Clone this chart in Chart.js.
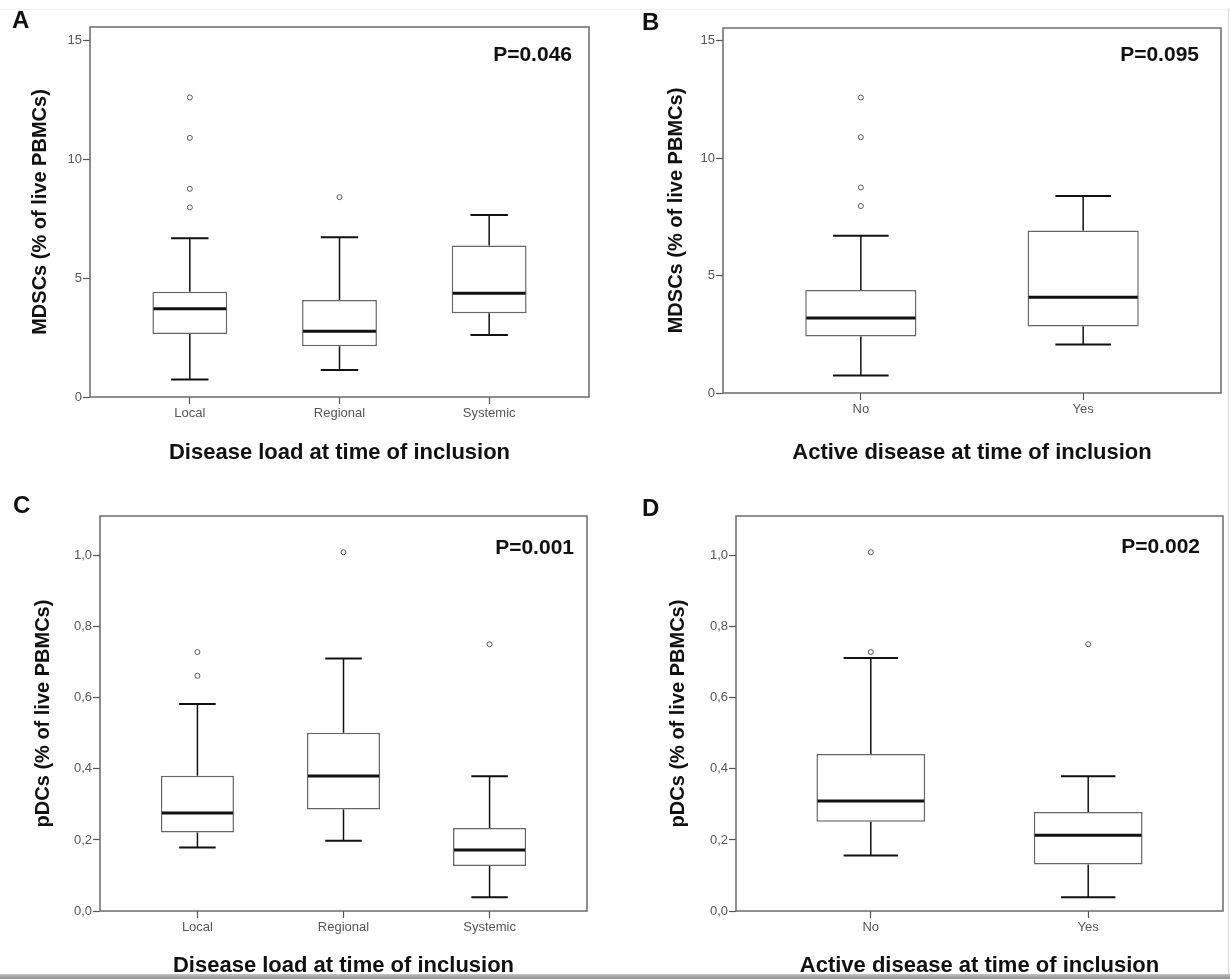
<!DOCTYPE html>
<html>
<head>
<meta charset="utf-8">
<script src="https://cdn.jsdelivr.net/npm/chart.js@4.4.1/dist/chart.umd.min.js"></script>
<style>
  body { margin: 0; background: #fff; }
  #page { position: relative; width: 1230px; height: 979px; overflow: hidden; background: #fff;
          font-family: "Liberation Sans", Arial, sans-serif; }
  canvas { position: absolute; }
  .letter { position: absolute; font-size: 24px; font-weight: bold; line-height: 1; color: #111; }
  .pval { position: absolute; font-size: 21px; font-weight: bold; line-height: 1; color: #111; }
  #topline { position: absolute; left: 0; top: 9px; width: 1230px; height: 1px; background: #f0f0f0; }
  #rightline { position: absolute; left: 1228px; top: 9px; width: 1px; height: 970px; background: #d8d8d8; }
  #bottombar { position: absolute; left: 0; top: 974px; width: 1230px; height: 5px;
               background: linear-gradient(#c4c4c4, #8c8c8c); }
</style>
</head>
<body>
<div id="page">
  <div id="topline"></div>
  <div id="rightline"></div>
  <canvas id="chartA" width="615" height="490" style="left:0;top:0"></canvas>
  <canvas id="chartB" width="615" height="490" style="left:615px;top:0"></canvas>
  <canvas id="chartC" width="615" height="489" style="left:0;top:490px"></canvas>
  <canvas id="chartD" width="615" height="489" style="left:615px;top:490px"></canvas>
  <div class="letter" style="left:12px;top:8px">A</div>
  <div class="letter" style="left:642px;top:10px">B</div>
  <div class="letter" style="left:13px;top:493px">C</div>
  <div class="letter" style="left:642px;top:496px">D</div>
  <div class="pval" style="right:658px;top:43px">P=0.046</div>
  <div class="pval" style="right:31px;top:43px">P=0.095</div>
  <div class="pval" style="right:656px;top:536px">P=0.001</div>
  <div class="pval" style="right:30px;top:535px">P=0.002</div>
  <div id="bottombar"></div>
</div>
<script>
// groups
const loadGroups = ['Local', 'Regional', 'Systemic'];
const activeGroups = ['No', 'Yes'];

// y ticks
const mdscTicks = [0, 5, 10, 15];
const mdscTickLabels = ['0', '5', '10', '15'];
const pdcTicks = [0, 0.2, 0.4, 0.6, 0.8, 1.0];
const pdcTickLabels = ['0,0', '0,2', '0,4', '0,6', '0,8', '1,0'];

// A: MDSCs by disease load
const mdscLoadLow = [0.74, 1.13, 2.61];
const mdscLoadQ1 = [2.65, 2.13, 3.52];
const mdscLoadMedian = [3.71, 2.76, 4.36];
const mdscLoadQ3 = [4.42, 4.08, 6.37];
const mdscLoadHigh = [6.67, 6.71, 7.65];
const mdscLoadOutliers = [[12.59, 10.89, 8.75, 7.97], [8.40], []];

// B: MDSCs by active disease
const mdscActiveLow = [0.75, 2.07];
const mdscActiveQ1 = [2.41, 2.83];
const mdscActiveMedian = [3.19, 4.08];
const mdscActiveQ3 = [4.38, 6.92];
const mdscActiveHigh = [6.69, 8.39];
const mdscActiveOutliers = [[12.58, 10.89, 8.75, 7.96], []];

// C: pDCs by disease load
const pdcLoadLow = [0.179, 0.198, 0.039];
const pdcLoadQ1 = [0.221, 0.286, 0.127];
const pdcLoadMedian = [0.276, 0.380, 0.172];
const pdcLoadQ3 = [0.381, 0.502, 0.234];
const pdcLoadHigh = [0.583, 0.711, 0.379];
const pdcLoadOutliers = [[0.729, 0.662], [1.010], [0.751]];

// D: pDCs by active disease
const pdcActiveLow = [0.156, 0.039];
const pdcActiveQ1 = [0.251, 0.131];
const pdcActiveMedian = [0.310, 0.213];
const pdcActiveQ3 = [0.442, 0.279];
const pdcActiveHigh = [0.712, 0.379];
const pdcActiveOutliers = [[1.010, 0.729], [0.751]];

const FONT = '"Liberation Sans", Arial, sans-serif';

function makePanel(id, cfg) {
  const n = cfg.groups.length;

  // whiskers, caps and medians, placed with the chart's own scales
  const boxLines = {
    id: 'boxLines',
    afterDatasetsDraw(chart) {
      const xs = chart.scales.x, ys = chart.scales.y, c = chart.ctx;
      c.save();
      c.strokeStyle = '#111';
      for (let i = 0; i < n; i++) {
        const x = xs.getPixelForValue(i + 1);
        const cap = xs.getPixelForValue(i + 1.125) - x;
        const half = xs.getPixelForValue(i + 1.25) - x;
        c.lineWidth = 1.5;
        c.beginPath();
        c.moveTo(x, ys.getPixelForValue(cfg.q3[i]));
        c.lineTo(x, ys.getPixelForValue(cfg.high[i]));
        c.moveTo(x, ys.getPixelForValue(cfg.q1[i]));
        c.lineTo(x, ys.getPixelForValue(cfg.low[i]));
        c.stroke();
        c.lineWidth = 2;
        c.beginPath();
        c.moveTo(x - cap, ys.getPixelForValue(cfg.high[i]));
        c.lineTo(x + cap, ys.getPixelForValue(cfg.high[i]));
        c.moveTo(x - cap, ys.getPixelForValue(cfg.low[i]));
        c.lineTo(x + cap, ys.getPixelForValue(cfg.low[i]));
        c.stroke();
        c.lineWidth = 3;
        c.beginPath();
        c.moveTo(x - half + 1, ys.getPixelForValue(cfg.median[i]));
        c.lineTo(x + half - 1, ys.getPixelForValue(cfg.median[i]));
        c.stroke();
      }
      c.restore();
    },
    afterDraw(chart) {
      const a = chart.chartArea, c = chart.ctx;
      c.save();
      c.strokeStyle = '#6a6a6a';
      c.lineWidth = 1.5;
      c.strokeRect(a.left, a.top, a.right - a.left, a.bottom - a.top);
      c.restore();
    }
  };

  const outlierPoints = [];
  cfg.outliers.forEach((vals, i) => vals.forEach(v => outlierPoints.push({ x: i + 1, y: v })));

  new Chart(document.getElementById(id), {
    type: 'bar',
    data: {
      datasets: [
        {
          type: 'bar',
          data: cfg.q1.map((q, i) => ({ x: i + 1, y: [q, cfg.q3[i]] })),
          backgroundColor: '#fff',
          borderColor: '#666',
          borderWidth: 1.5,
          borderSkipped: false,
          barPercentage: 0.5,
          categoryPercentage: 1,
          grouped: false
        },
        {
          type: 'scatter',
          data: outlierPoints,
          pointRadius: 2.5,
          pointBorderWidth: 1,
          pointBorderColor: '#555',
          pointBackgroundColor: '#fff'
        }
      ]
    },
    options: {
      responsive: false,
      animation: false,
      layout: { padding: { top: cfg.padTop, right: cfg.padRight, left: 0, bottom: 0 } },
      plugins: { legend: { display: false }, tooltip: { enabled: false } },
      scales: {
        x: {
          type: 'linear',
          offset: false,
          min: 1 - cfg.margin,
          max: n + cfg.margin,
          afterBuildTicks: s => { s.ticks = cfg.groups.map((g, i) => ({ value: i + 1 })); },
          afterFit: s => { s.height = cfg.xHeight; },
          ticks: {
            autoSkip: false, maxRotation: 0, padding: 2, color: '#555',
            font: { family: FONT, size: 13 },
            callback: v => cfg.groups[v - 1]
          },
          grid: { offset: false, drawOnChartArea: false, tickLength: 7, tickColor: '#555', tickWidth: 1.2 },
          border: { display: false },
          title: {
            display: true, text: cfg.xTitle, color: '#111',
            font: { family: FONT, size: 22, weight: 'bold' },
            padding: { top: 0, bottom: cfg.xTitlePad }
          }
        },
        y: {
          min: 0,
          max: cfg.yMax,
          afterBuildTicks: s => { s.ticks = cfg.yTicks.map(v => ({ value: v })); },
          afterFit: s => { s.width = cfg.yWidth; },
          ticks: {
            padding: 1, color: '#555',
            font: { family: FONT, size: 13 },
            callback: (v, i) => cfg.yTickLabels[i]
          },
          grid: { drawOnChartArea: false, tickLength: 7, tickColor: '#555', tickWidth: 1.2 },
          border: { display: false },
          title: {
            display: true, text: cfg.yTitle, color: '#111',
            font: { family: FONT, size: 20, weight: 'bold' },
            padding: { top: cfg.yTitlePad, bottom: 0 }
          }
        }
      }
    },
    plugins: [boxLines]
  });
}

makePanel('chartA', {
  groups: loadGroups, low: mdscLoadLow, q1: mdscLoadQ1, median: mdscLoadMedian,
  q3: mdscLoadQ3, high: mdscLoadHigh, outliers: mdscLoadOutliers,
  yTicks: mdscTicks, yTickLabels: mdscTickLabels, yMax: 15.55, margin: 0.667,
  yTitle: 'MDSCs (% of live PBMCs)', xTitle: 'Disease load at time of inclusion',
  padTop: 27, padRight: 26, yWidth: 90, xHeight: 93, yTitlePad: 28, xTitlePad: 24
});

makePanel('chartB', {
  groups: activeGroups, low: mdscActiveLow, q1: mdscActiveQ1, median: mdscActiveMedian,
  q3: mdscActiveQ3, high: mdscActiveHigh, outliers: mdscActiveOutliers,
  yTicks: mdscTicks, yTickLabels: mdscTickLabels, yMax: 15.54, margin: 0.62,
  yTitle: 'MDSCs (% of live PBMCs)', xTitle: 'Active disease at time of inclusion',
  padTop: 28, padRight: 9, yWidth: 108, xHeight: 97, yTitlePad: 49, xTitlePad: 24
});

makePanel('chartC', {
  groups: loadGroups, low: pdcLoadLow, q1: pdcLoadQ1, median: pdcLoadMedian,
  q3: pdcLoadQ3, high: pdcLoadHigh, outliers: pdcLoadOutliers,
  yTicks: pdcTicks, yTickLabels: pdcTickLabels, yMax: 1.112, margin: 0.667,
  yTitle: 'pDCs (% of live PBMCs)', xTitle: 'Disease load at time of inclusion',
  padTop: 26, padRight: 28, yWidth: 100, xHeight: 68, yTitlePad: 31, xTitlePad: 0
});

makePanel('chartD', {
  groups: activeGroups, low: pdcActiveLow, q1: pdcActiveQ1, median: pdcActiveMedian,
  q3: pdcActiveQ3, high: pdcActiveHigh, outliers: pdcActiveOutliers,
  yTicks: pdcTicks, yTickLabels: pdcTickLabels, yMax: 1.112, margin: 0.62,
  yTitle: 'pDCs (% of live PBMCs)', xTitle: 'Active disease at time of inclusion',
  padTop: 26, padRight: 7, yWidth: 121, xHeight: 68, yTitlePad: 51, xTitlePad: 0
});
</script>
</body>
</html>
